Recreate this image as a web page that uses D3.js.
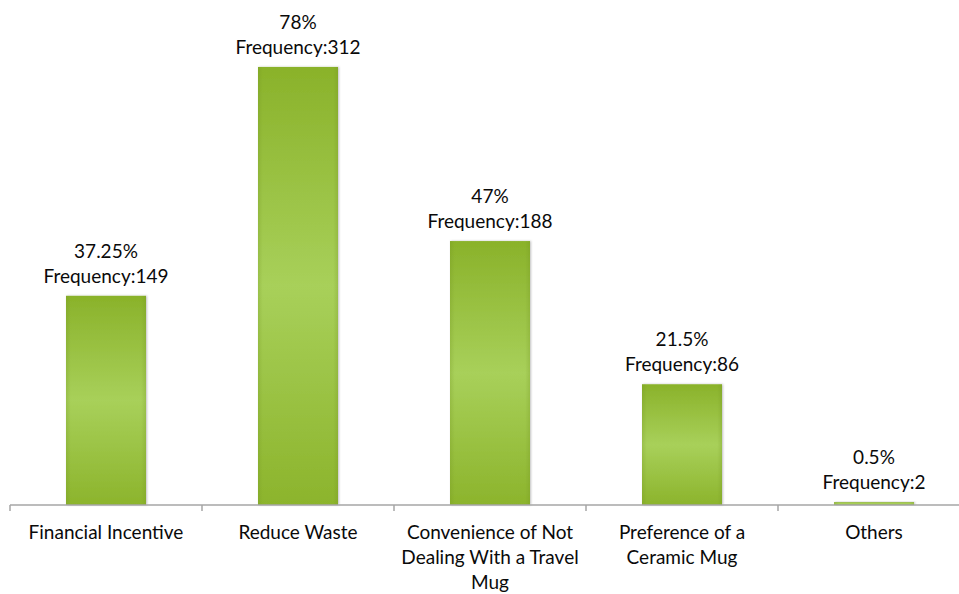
<!DOCTYPE html>
<html>
<head>
<meta charset="utf-8">
<script src="https://cdn.jsdelivr.net/npm/d3@7"></script>
<style>
  body { margin: 0; background: #fff; }
  text { font-family: 'Lato', 'Open Sans', sans-serif; fill: #0a0a0a; }
</style>
</head>
<body>
<svg id="chart"></svg>
<script>
// Data
const categories = ['Financial Incentive', 'Reduce Waste', 'Convenience of Not Dealing With a Travel Mug', 'Preference of a Ceramic Mug', 'Others'];
const frequencies = [149, 312, 188, 86, 2];
const percentLabels = ['37.25%', '78%', '47%', '21.5%', '0.5%'];
const axisLabels = [
  ['Financial Incentive'],
  ['Reduce Waste'],
  ['Convenience of Not', 'Dealing With a Travel', 'Mug'],
  ['Preference of a', 'Ceramic Mug'],
  ['Others']
];

const data = categories.map((c, i) => ({
  key: c, count: frequencies[i], pct: percentLabels[i], lines: axisLabels[i]
}));

const width = 959, height = 594;
const margin = { top: 0, left: 10, bottom: 89 };
const baseY = height - margin.bottom; // 505
const bandW = 192;

const svg = d3.select('#chart')
  .attr('width', width)
  .attr('height', height);

// Bar gradient: darker at top and bottom, lighter middle
const defs = svg.append('defs');
const grad = defs.append('linearGradient')
  .attr('id', 'barGrad')
  .attr('x1', 0).attr('y1', 0).attr('x2', 0).attr('y2', 1);
grad.append('stop').attr('offset', '0%').attr('stop-color', '#8ab22a');
grad.append('stop').attr('offset', '50%').attr('stop-color', '#a8d05a');
grad.append('stop').attr('offset', '100%').attr('stop-color', '#8cb42c');

const hgrad = defs.append('linearGradient')
  .attr('id', 'edgeGrad')
  .attr('x1', 0).attr('y1', 0).attr('x2', 1).attr('y2', 0);
hgrad.append('stop').attr('offset', '0%').attr('stop-color', '#6f9020').attr('stop-opacity', 0.25);
hgrad.append('stop').attr('offset', '6%').attr('stop-color', '#6f9020').attr('stop-opacity', 0);
hgrad.append('stop').attr('offset', '94%').attr('stop-color', '#6f9020').attr('stop-opacity', 0);
hgrad.append('stop').attr('offset', '100%').attr('stop-color', '#6f9020').attr('stop-opacity', 0.25);

const shadow = defs.append('filter').attr('id', 'shadow')
  .attr('x', '-10%').attr('y', '-10%').attr('width', '130%').attr('height', '120%');
shadow.append('feDropShadow')
  .attr('dx', 1).attr('dy', 0).attr('stdDeviation', 1)
  .attr('flood-color', '#000').attr('flood-opacity', 0.25);

const xScale = d3.scaleBand()
  .domain(categories)
  .range([margin.left, margin.left + bandW * categories.length])
  .paddingInner(0)
  .paddingOuter(0);

const yScale = d3.scaleLinear()
  .domain([0, 359.7])
  .range([baseY, margin.top]);

const barW = 80;
const cx = d => xScale(d.key) + xScale.bandwidth() / 2;

const chart = svg.append('g');

chart.selectAll('.bar')
  .data(data)
  .join('rect')
  .attr('class', 'bar')
  .attr('x', d => cx(d) - barW / 2)
  .attr('width', barW)
  .attr('y', d => yScale(d.count))
  .attr('height', d => baseY - yScale(d.count))
  .attr('fill', 'url(#barGrad)')
  .attr('filter', 'url(#shadow)');

chart.selectAll('.bar-edge')
  .data(data)
  .join('rect')
  .attr('class', 'bar-edge')
  .attr('x', d => cx(d) - barW / 2)
  .attr('width', barW)
  .attr('y', d => yScale(d.count))
  .attr('height', d => baseY - yScale(d.count))
  .attr('fill', 'url(#edgeGrad)');

// Axis line with ticks at band boundaries
const axisG = svg.append('g')
  .attr('transform', `translate(0,${baseY})`);
axisG.append('line')
  .attr('x1', margin.left).attr('x2', width)
  .attr('y1', 0).attr('y2', 0)
  .attr('stroke', '#a6a6a6').attr('stroke-width', 1.5);
const tickPos = categories.map(c => xScale(c)).concat([xScale.range()[1]]);
axisG.selectAll('.tick')
  .data(tickPos)
  .join('line')
  .attr('class', 'tick')
  .attr('x1', d => d).attr('x2', d => d)
  .attr('y1', 0).attr('y2', 6)
  .attr('stroke', '#a6a6a6').attr('stroke-width', 1.5);

const fs = 19;

// Category labels
const lab = svg.selectAll('.cat')
  .data(data)
  .join('text')
  .attr('class', 'cat')
  .attr('text-anchor', 'middle')
  .attr('font-size', fs)
  .attr('x', cx)
  .attr('y', baseY + 34);
lab.selectAll('tspan')
  .data(d => d.lines.map(l => ({ l, x: cx(d) })))
  .join('tspan')
  .attr('x', d => d.x)
  .attr('dy', (d, i) => i === 0 ? 0 : 25)
  .text(d => d.l);

// Value labels above bars
svg.selectAll('.pct')
  .data(data)
  .join('text')
  .attr('class', 'pct')
  .attr('text-anchor', 'middle')
  .attr('font-size', fs)
  .attr('x', cx)
  .attr('y', d => yScale(d.count) - 38)
  .text(d => d.pct);

svg.selectAll('.freq')
  .data(data)
  .join('text')
  .attr('class', 'freq')
  .attr('text-anchor', 'middle')
  .attr('font-size', fs)
  .attr('x', cx)
  .attr('y', d => yScale(d.count) - 13)
  .text(d => 'Frequency:' + d.count);
</script>
</body>
</html>
